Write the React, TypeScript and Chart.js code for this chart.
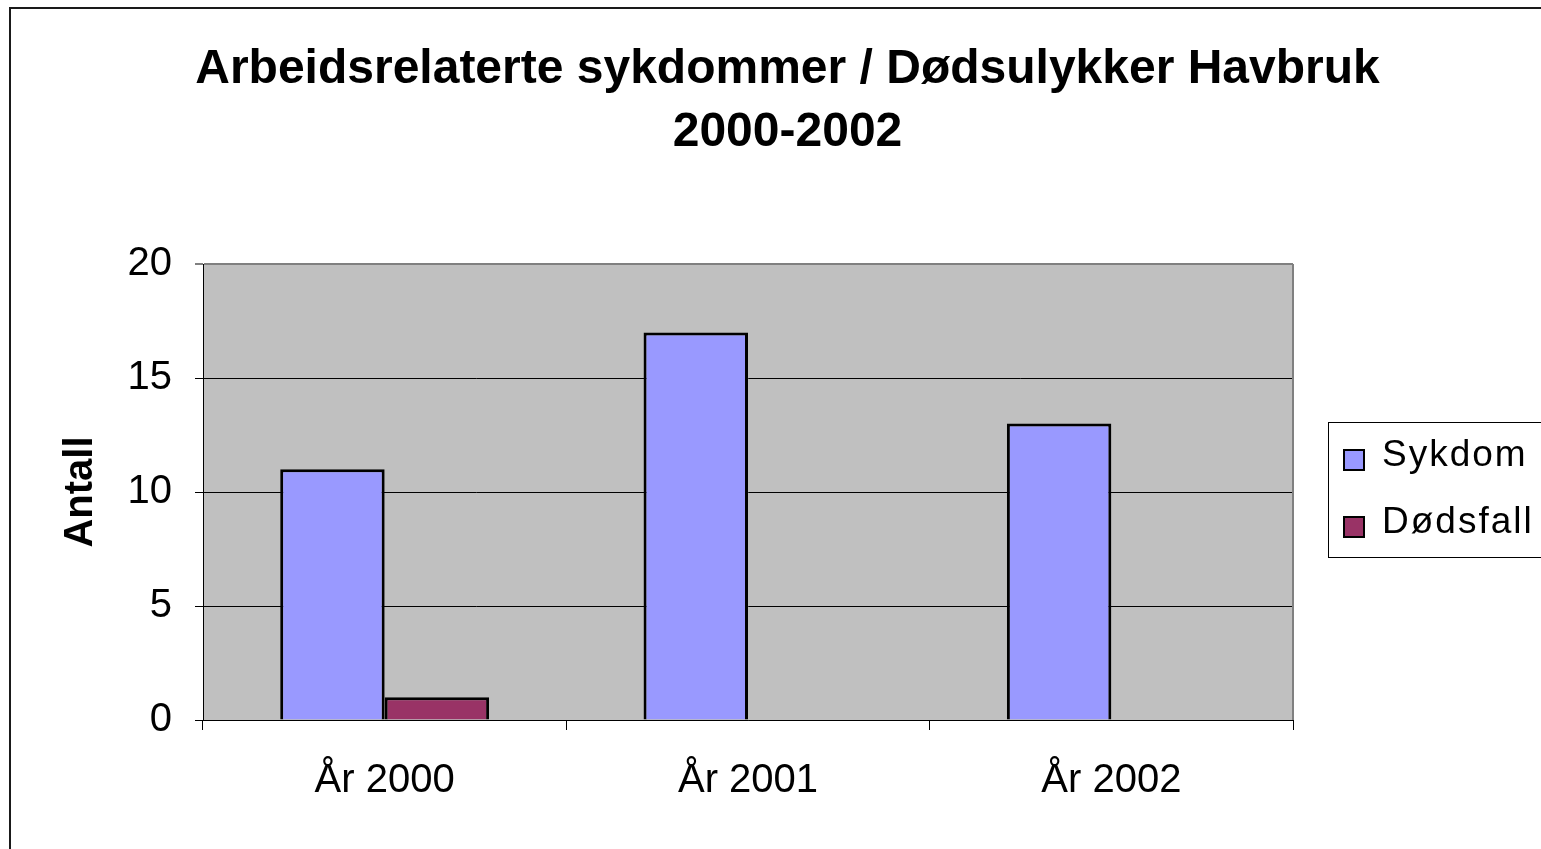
import { useEffect, useRef } from 'react';
import { Chart, registerables } from 'chart.js';

Chart.register(...registerables);

const categories = ['År 2000', 'År 2001', 'År 2002'];
const sykdomValues = [11, 17, 13];
const dodsfallValues = [1, 0, 0];
const seriesNames = ['Sykdom', 'Dødsfall'];
const seriesColors = ['#9999FF', '#993366'];
const titleLines = ['Arbeidsrelaterte sykdommer / Dødsulykker Havbruk', '2000-2002'];
const yAxisTitle = 'Antall';
const yMin = 0;
const yMax = 20;
const yStep = 5;

const FONT = '"Liberation Sans", Arial, sans-serif';

export default function App() {
  const ref = useRef<HTMLCanvasElement>(null);

  useEffect(() => {
    const canvas = ref.current;
    if (!canvas) return;

    const decor = {
      id: 'decor',
      beforeDraw(chart: any) {
        const { ctx, chartArea: a } = chart;
        ctx.save();
        ctx.fillStyle = '#ffffff';
        ctx.fillRect(0, 0, chart.width, chart.height);
        ctx.fillStyle = '#C0C0C0';
        ctx.fillRect(a.left, a.top, a.right - a.left, a.bottom - a.top);
        ctx.restore();
      },
      afterDraw(chart: any) {
        const { ctx, chartArea: a } = chart;
        ctx.save();
        // right plot border
        ctx.strokeStyle = '#808080';
        ctx.lineWidth = 2;
        ctx.beginPath();
        ctx.moveTo(a.right, a.top);
        ctx.lineTo(a.right, a.bottom);
        ctx.stroke();
        // outer chart border
        ctx.strokeStyle = '#1a1a1a';
        ctx.lineWidth = 2;
        ctx.strokeRect(10, 8, chart.width + 40, chart.height + 40);
        // title
        ctx.fillStyle = '#000';
        ctx.font = `bold 48px ${FONT}`;
        ctx.textAlign = 'center';
        ctx.textBaseline = 'middle';
        ctx.fillText(titleLines[0], 787.5, 70);
        ctx.fillText(titleLines[1], 787.5, 133);
        // legend
        ctx.fillStyle = '#ffffff';
        ctx.fillRect(1328, 422, 400, 136);
        ctx.strokeStyle = '#000';
        ctx.lineWidth = 1;
        ctx.strokeRect(1328.5, 422.5, 400, 135);
        const rows = [460, 527];
        ctx.font = `37px ${FONT}`;
        (ctx as any).letterSpacing = '2px';
        ctx.textAlign = 'left';
        ctx.textBaseline = 'middle';
        seriesNames.forEach((name, i) => {
          const cy = rows[i];
          ctx.fillStyle = seriesColors[i];
          ctx.fillRect(1343, cy - 11, 22, 22);
          ctx.strokeStyle = '#000';
          ctx.lineWidth = 2;
          ctx.strokeRect(1344, cy - 10, 20, 20);
          ctx.fillStyle = '#000';
          ctx.fillText(name, 1382, cy - 4);
        });
        ctx.restore();
      },
    };

    const chart = new Chart(canvas, {
      type: 'bar',
      data: {
        labels: categories,
        datasets: [
          {
            label: seriesNames[0],
            data: sykdomValues,
            backgroundColor: seriesColors[0],
            borderColor: '#000',
            borderWidth: 3,
          },
          {
            label: seriesNames[1],
            data: dodsfallValues,
            backgroundColor: seriesColors[1],
            borderColor: '#000',
            borderWidth: 3,
          },
        ],
      },
      options: {
        responsive: false,
        devicePixelRatio: 1,
        animation: false,
        layout: { padding: { top: 264, left: 0, right: 248, bottom: 0 } },
        datasets: { bar: { categoryPercentage: 0.575, barPercentage: 1 } },
        plugins: {
          legend: { display: false },
          title: { display: false },
          tooltip: { enabled: false },
        },
        scales: {
          x: {
            grid: {
              offset: true,
              drawOnChartArea: false,
              drawTicks: true,
              tickLength: 10,
              color: '#000',
            },
            border: { color: '#000', width: 1 },
            ticks: {
              color: '#000',
              font: { family: FONT, size: 40 },
              padding: 27,
              maxRotation: 0,
            },
            afterFit: (scale: any) => {
              scale.height = 129;
            },
          },
          y: {
            min: yMin,
            max: yMax,
            ticks: {
              stepSize: yStep,
              color: '#000',
              font: { family: FONT, size: 40 },
              padding: 23,
            },
            grid: {
              tickLength: 8,
              color: (c: any) => (c.tick && c.tick.value === yMax ? '#808080' : '#000'),
              lineWidth: (c: any) => (c.tick && c.tick.value === yMax ? 2 : 1),
            },
            border: { color: '#000', width: 1 },
            title: {
              display: true,
              text: yAxisTitle,
              color: '#000',
              font: { family: FONT, size: 40, weight: 'bold' },
              padding: { top: 57, bottom: 0 },
            },
            afterFit: (scale: any) => {
              scale.width = 203;
            },
          },
        },
      },
      plugins: [decor],
    });

    return () => chart.destroy();
  }, []);

  return (
    <div
      style={{
        position: 'fixed',
        left: 0,
        top: 0,
        width: 1541,
        height: 849,
        overflow: 'hidden',
        background: '#fff',
      }}
    >
      <canvas ref={ref} width={1541} height={849} style={{ display: 'block' }} />
    </div>
  );
}
